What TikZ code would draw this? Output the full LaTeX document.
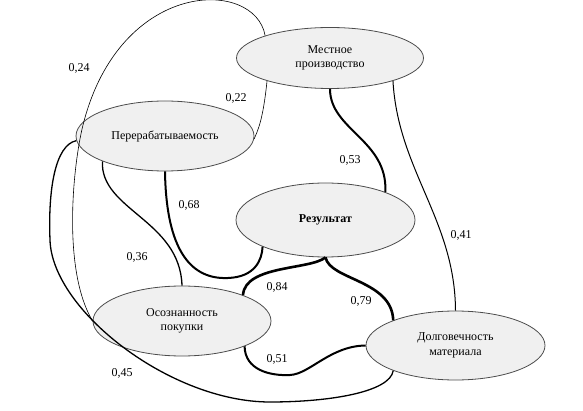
\documentclass[tikz,border=0pt]{standalone}
\usepackage{fontspec}
\setmainfont{Liberation Serif}
\usetikzlibrary{shapes.geometric}

\begin{document}
\begin{tikzpicture}[x=1pt, y=-1pt, font=\fontsize{12}{14.5}\selectfont]
\tikzstyle{factor}=[ellipse, draw=black!70, fill=black!6, line width=0.8pt, inner sep=0pt, align=center, minimum width=178pt, minimum height=70pt]
\tikzstyle{weak}=[line width=0.6pt]
\tikzstyle{light}=[line width=1pt]
\tikzstyle{mid}=[line width=1.3pt]
\tikzstyle{strong}=[line width=2pt]
\tikzstyle{heavy}=[line width=2.6pt]

\useasboundingbox (0,0) rectangle (583,411);

\node[factor, minimum width=187pt, minimum height=61pt] (mest) at (330,58) {Местное\\производство};
\node[factor] (perer) at (165,136) {Перерабатываемость};
\node[factor, minimum width=179pt, minimum height=74pt] (rez) at (325.5,220) {\textbf{Результат}};
\node[factor] (osozn) at (182,321) {Осознанность\\покупки};
\node[factor, minimum width=179pt, minimum height=69pt] (dolg) at (455.5,345.5) {Долговечность\\материала};

% thin links
\draw[weak] (mest.200) .. controls (263,120) and (258,130) .. (perer.-2);
\draw[weak] (mest.161) .. controls (255,-22) and (120,-22) .. (83,125)
  .. controls (73,165) and (62,270) .. (osozn.west);
\draw[light] (mest.-20) .. controls (398,170) and (455,220) .. (dolg.north);
\draw[mid] (perer.202) .. controls (100,210) and (180,220) .. (osozn.north);
\draw[mid] (perer.183) .. controls (55,145) and (48,190) .. (50,240)
  .. controls (52,310) and (170,402) .. (270,402)
  .. controls (330,402) and (390,392) .. (dolg.202);

% strong links
\draw[strong] (perer.south) .. controls (166,240) and (185,280) .. (228,278)
  .. controls (255,277) and (262,260) .. (rez.203);
\draw[strong] (mest.south) .. controls (330,130) and (388,140) .. (rez.25);
\draw[strong] (osozn.-22) .. controls (245,370) and (270,376) .. (290,375)
  .. controls (310,374) and (330,346) .. (dolg.west);
\draw[heavy] (rez.south) .. controls (310,270) and (245,265) .. (osozn.23);
\draw[heavy] (rez.south) .. controls (330,280) and (392,280) .. (dolg.158);

% weights
\node (w22) at (236,98) {0,22};
\node (w24) at (79,68) {0,24};
\node (w53) at (350,160) {0,53};
\node (w68) at (189,205) {0,68};
\node (w41) at (461,235) {0,41};
\node (w36) at (137,257) {0,36};
\node (w84) at (277,287) {0,84};
\node (w79) at (361,301) {0,79};
\node (w51) at (277,359) {0,51};
\node (w45) at (122,373) {0,45};
\end{tikzpicture}
\end{document}
